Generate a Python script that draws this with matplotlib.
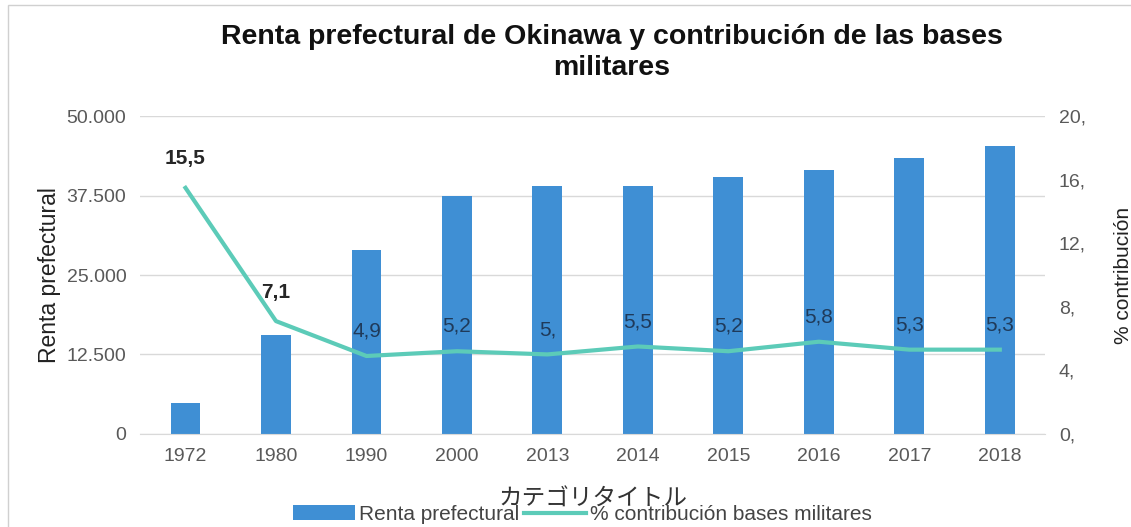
import matplotlib.pyplot as plt
import numpy as np

plt.rcParams['font.family'] = ['Liberation Sans', 'Noto Sans CJK JP', 'DejaVu Sans']

# Data
years = ['1972', '1980', '1990', '2000', '2013', '2014', '2015', '2016', '2017', '2018']
renta = [4900, 15500, 29000, 37400, 39100, 39100, 40500, 41600, 43400, 45400]
contrib = [15.5, 7.1, 4.9, 5.2, 5.0, 5.5, 5.2, 5.8, 5.3, 5.3]
contrib_labels = ['15,5', '7,1', '4,9', '5,2', '5,', '5,5', '5,2', '5,8', '5,3', '5,3']
left_ticks = [0, 12500, 25000, 37500, 50000]
left_labels = ['0', '12.500', '25.000', '37.500', '50.000']
right_ticks = [0, 4, 8, 12, 16, 20]
right_labels = ['0,', '4,', '8,', '12,', '16,', '20,']

bar_color = '#3f8fd4'
line_color = '#5ccbb8'
grey = '#595959'

fig = plt.figure(figsize=(11.31, 5.27), dpi=100)
ax = fig.add_axes([0.124, 0.177, 0.800, 0.602])
x = np.arange(len(years))

ax.bar(x, renta, width=0.33, color=bar_color, zorder=2, label='Renta prefectural')
ax.set_ylim(0, 50000)
ax.set_xlim(-0.5, len(years) - 0.5)
ax.set_yticks(left_ticks)
ax.set_yticklabels(left_labels)
ax.set_xticks(x)
ax.set_xticklabels(years)
ax.grid(axis='y', color='#d9d9d9', linewidth=1, zorder=0)
ax.tick_params(axis='both', length=0, labelsize=14, colors=grey, pad=10)
for s in ax.spines.values():
    s.set_visible(False)
ax.spines['bottom'].set_visible(True)
ax.spines['bottom'].set_color('#d9d9d9')
ax.set_ylabel('Renta prefectural', fontsize=16.5, color='#222222', labelpad=4)
ax.set_xlabel('カテゴリタイトル', fontsize=17, color='#333333', labelpad=17)

ax2 = ax.twinx()
ax2.plot(x, contrib, color=line_color, linewidth=3, zorder=3,
         label='% contribución bases militares')
ax2.set_ylim(0, 20)
ax2.set_yticks(right_ticks)
ax2.set_yticklabels(right_labels)
ax2.tick_params(axis='y', length=0, labelsize=14, colors=grey, pad=10)
for s in ax2.spines.values():
    s.set_visible(False)
ax2.set_ylabel('% contribución', fontsize=15, color='#222222', labelpad=20)

for i, (v, lab) in enumerate(zip(contrib, contrib_labels)):
    if i < 2:
        ax2.annotate(lab, (x[i], v), xytext=(0, 14), textcoords='offset points',
                     ha='center', va='bottom', fontsize=15, fontweight='bold',
                     color='#262626')
    else:
        ax2.annotate(lab, (x[i], v), xytext=(0, 11), textcoords='offset points',
                     ha='center', va='bottom', fontsize=15, color='#1f3a5a')

fig.suptitle('Renta prefectural de Okinawa y contribución de las bases\nmilitares',
             x=0.541, y=0.955, fontsize=20.5, fontweight='bold', color='#111111',
             linespacing=1.25)

h1, l1 = ax.get_legend_handles_labels()
h2, l2 = ax2.get_legend_handles_labels()
fig.legend(h1 + h2, l1 + l2, loc='lower center', bbox_to_anchor=(0.515, -0.03),
           ncol=2, frameon=False, fontsize=15, handlelength=3.0,
           handletextpad=0.2, columnspacing=0.2, labelcolor='#444444')

# thin border like the source screenshot
fig.patches.append(plt.Rectangle((0.007, -0.1), 1.2, 1.09, transform=fig.transFigure,
                                 fill=False, edgecolor='#d0d0d0', linewidth=1))

fig.savefig('out.png', dpi=100)
